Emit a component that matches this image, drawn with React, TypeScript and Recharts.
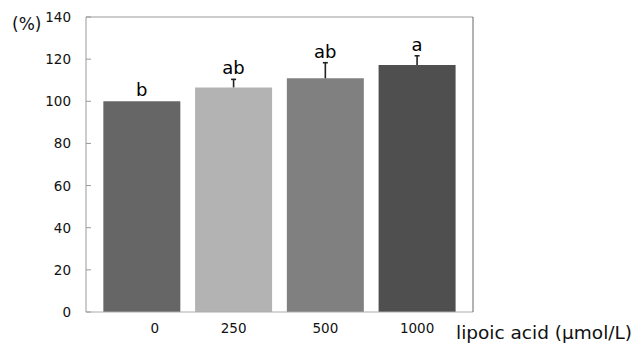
import React from "react";
import {
  BarChart,
  Bar,
  XAxis,
  YAxis,
  Cell,
  LabelList,
  ReferenceLine,
} from "recharts";

const doses = ["0", "250", "500", "1000"];
const means = [100, 106.6, 110.9, 117.2];
const sd = [0, 3.8, 7.4, 4.4];
const letters = ["b", "ab", "ab", "a"];
const barColors = ["#666666", "#b3b3b3", "#808080", "#4f4f4f"];
const yTicks = [0, 20, 40, 60, 80, 100, 120, 140];

const data = doses.map((d, i) => ({
  dose: d,
  mean: means[i],
  sd: sd[i],
  letter: letters[i],
}));

const FONT = "'DejaVu Sans', Verdana, sans-serif";

function YTick({ x, y, payload }) {
  return (
    <g>
      <line x1={x + 15} y1={y} x2={x + 20} y2={y} stroke="#999" strokeWidth={1} />
      <text x={x} y={y} dy={5} textAnchor="end" fontSize={13.5} fontFamily={FONT} fill="#111">
        {payload.value}
      </text>
    </g>
  );
}

function XTick({ x, y, payload }) {
  // first label sits a bit right of its bar in the original
  const dx = payload.value === "0" ? 13 : 0;
  return (
    <text x={x + dx} y={y} dy={10} textAnchor="middle" fontSize={13.5} fontFamily={FONT} fill="#111">
      {payload.value}
    </text>
  );
}

// upper-only error bar, drawn as the stacked segment above each mean
function UpperError({ x, y, width, height }) {
  if (!height || height <= 0) return null;
  const cx = x + width / 2;
  return (
    <g stroke="#222" strokeWidth={1.6}>
      <line x1={cx} y1={y + height} x2={cx} y2={y} />
      <line x1={cx - 2.5} y1={y} x2={cx + 2.5} y2={y} />
    </g>
  );
}

function LetterLabel({ x, y, width, value }) {
  return (
    <text x={x + width / 2} y={y - 5} textAnchor="middle" fontSize={18} fontFamily={FONT} fill="#000">
      {value}
    </text>
  );
}

export default function App() {
  return (
    <div style={{ position: "absolute", left: 0, top: 0, width: 642, height: 350, background: "#fff" }}>
      <BarChart
        width={642}
        height={350}
        data={data}
        margin={{ top: 17, right: 168, left: 0, bottom: 0 }}
        barCategoryGap="8%"
      >
        <XAxis
          dataKey="dose"
          padding={{ left: 10, right: 10 }}
          height={38}
          tickLine={false}
          tickSize={0}
          tickMargin={11}
          axisLine={{ stroke: "#aaa" }}
          tick={<XTick />}
          label={{
            content: ({ viewBox }) => (
              <text
                x={viewBox.x + viewBox.width - 17}
                y={339}
                fontSize={18.5}
                fontFamily={FONT}
                fill="#111"
              >
                lipoic acid (μmol/L)
              </text>
            ),
          }}
        />
        <YAxis
          domain={[0, 140]}
          ticks={yTicks}
          width={86}
          tickLine={false}
          tickSize={0}
          tickMargin={15}
          axisLine={{ stroke: "#999" }}
          tick={<YTick />}
          label={{
            content: () => (
              <text x={12} y={30} fontSize={17} fontFamily={FONT} fill="#111">
                (%)
              </text>
            ),
          }}
        />
        <YAxis
          yAxisId="r"
          orientation="right"
          domain={[0, 140]}
          width={1}
          tick={false}
          tickLine={false}
          axisLine={{ stroke: "#666" }}
        />
        <ReferenceLine y={140} stroke="#999" />
        <Bar dataKey="mean" stackId="s" isAnimationActive={false}>
          {data.map((d, i) => (
            <Cell key={i} fill={barColors[i]} />
          ))}
        </Bar>
        <Bar dataKey="sd" stackId="s" isAnimationActive={false} shape={<UpperError />}>
          <LabelList dataKey="letter" content={<LetterLabel />} />
        </Bar>
      </BarChart>
    </div>
  );
}
